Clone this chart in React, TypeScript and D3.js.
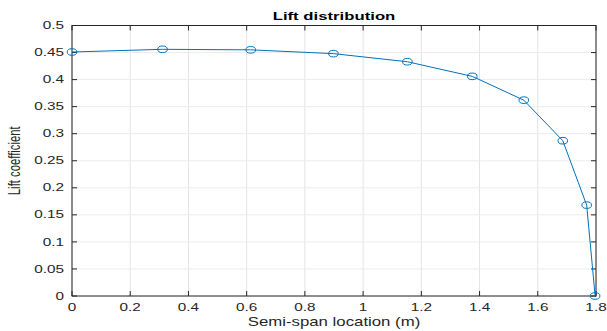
import React from "react";
import * as d3 from "d3";

const spanX = [0, 0.311, 0.614, 0.898, 1.152, 1.375, 1.552, 1.686, 1.768, 1.797];
const liftCl = [0.451, 0.456, 0.455, 0.448, 0.433, 0.406, 0.362, 0.287, 0.168, 0];
const xTicks = [0, 0.2, 0.4, 0.6, 0.8, 1, 1.2, 1.4, 1.6, 1.8];
const yTicks = [0, 0.05, 0.1, 0.15, 0.2, 0.25, 0.3, 0.35, 0.4, 0.45, 0.5];
const titleText = "Lift distribution";
const xLabel = "Semi-span location (m)";
const yLabel = "Lift coefficient";

const W = 607, H = 331;
const L = 72, R = 596, T = 25.5, B = 296;
const SX = 1.5;
const FONT = "Liberation Sans, Arial, Helvetica, sans-serif";
const AX = "#262626";
const LINE = "#0072BD";

export default function App() {
  const x = d3.scaleLinear().domain([0, 1.8]).range([L, R]);
  const y = d3.scaleLinear().domain([0, 0.5]).range([B, T]);
  const line = d3.line<number>().x((_, i) => x(spanX[i])).y((d) => y(d));
  const fmt = (v: number) => String(+v.toFixed(2));
  return (
    <svg width={W} height={H} style={{ position: "absolute", left: 0, top: 0, background: "#fff" }}>
      <rect x={0} y={0} width={W} height={H} fill="#fff" />
      {xTicks.map((t) => (
        <line key={"gx" + t} x1={x(t)} x2={x(t)} y1={T} y2={B} stroke="#e3e3e3" strokeWidth={1} />
      ))}
      {yTicks.map((t) => (
        <line key={"gy" + t} x1={L} x2={R} y1={y(t)} y2={y(t)} stroke="#ececec" strokeWidth={1} />
      ))}
      <rect x={L} y={T} width={R - L} height={B - T} fill="none" stroke={AX} strokeWidth={1} />
      {xTicks.map((t) => (
        <g key={"tx" + t}>
          <line x1={x(t)} x2={x(t)} y1={B} y2={B - 5} stroke={AX} />
          <line x1={x(t)} x2={x(t)} y1={T} y2={T + 5} stroke={AX} />
          <g transform={`translate(${x(t)},${311}) scale(${SX},1)`}>
            <text textAnchor="middle" fontFamily={FONT} fontSize={10.2} fill={AX}>{fmt(t)}</text>
          </g>
        </g>
      ))}
      {yTicks.map((t) => (
        <g key={"ty" + t}>
          <line x1={L} x2={L + 5} y1={y(t)} y2={y(t)} stroke={AX} />
          <line x1={R} x2={R - 5} y1={y(t)} y2={y(t)} stroke={AX} />
          <g transform={`translate(${64},${y(t) + 3.6}) scale(${SX},1)`}>
            <text textAnchor="end" fontFamily={FONT} fontSize={10.2} fill={AX}>{fmt(t)}</text>
          </g>
        </g>
      ))}
      <path d={line(liftCl) || ""} fill="none" stroke={LINE} strokeWidth={1} />
      {liftCl.map((v, i) => (
        <ellipse key={"m" + i} cx={x(spanX[i])} cy={y(v)} rx={4.8} ry={3.3} fill="none" stroke={LINE} strokeWidth={1} />
      ))}
      <g transform={`translate(${(L + R) / 2},${20}) scale(${1.55},1)`}>
        <text textAnchor="middle" fontFamily={FONT} fontSize={10.8} fontWeight="bold" fill="#000">{titleText}</text>
      </g>
      <g transform={`translate(${(L + R) / 2},${326}) scale(${1.4},1)`}>
        <text textAnchor="middle" fontFamily={FONT} fontSize={12} fill={AX}>{xLabel}</text>
      </g>
      <g transform={`translate(${20},${(T + B) / 2}) scale(${SX},1) rotate(-90)`}>
        <text textAnchor="middle" fontFamily={FONT} fontSize={11.3} fill={AX}>{yLabel}</text>
      </g>
    </svg>
  );
}
